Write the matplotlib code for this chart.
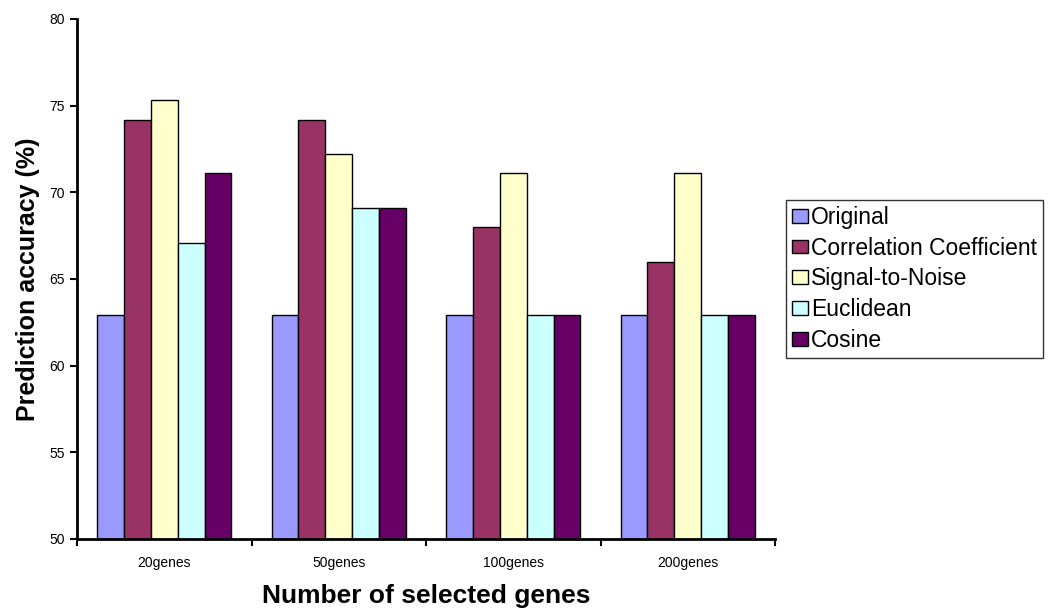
import numpy as np
import matplotlib
matplotlib.use("Agg")
import matplotlib.pyplot as plt

plt.rcParams['font.family'] = ['Liberation Sans', 'DejaVu Sans']

# ── Data ────────────────────────────────────────────────
groups = ["20genes", "50genes", "100genes", "200genes"]
methods = ["Original", "Correlation Coefficient", "Signal-to-Noise",
           "Euclidean", "Cosine"]

original    = [62.9, 62.9, 62.9, 62.9]
correlation = [74.2, 74.2, 68.0, 66.0]
signal_noise = [75.3, 72.2, 71.1, 71.1]
euclidean   = [67.1, 69.1, 62.9, 62.9]
cosine      = [71.1, 69.1, 62.9, 62.9]

series = [original, correlation, signal_noise, euclidean, cosine]
colors = ["#9999FF", "#993366", "#FFFFCC", "#CCFFFF", "#660066"]

# ── Figure ──────────────────────────────────────────────
fig = plt.figure(figsize=(10.52, 6.08), dpi=100)
ax = fig.add_axes([0.0732, 0.1135, 0.6635, 0.8553])

bar_w = 0.154
x = np.arange(len(groups)) + 0.5
for i, (vals, col, name) in enumerate(zip(series, colors, methods)):
    offs = (i - 2) * bar_w
    ax.bar(x + offs, np.array(vals) - 50, bar_w, bottom=50, color=col,
           edgecolor="black", linewidth=1.0, label=name)

ax.set_xlim(0, len(groups))
ax.set_ylim(50, 80)
ax.set_yticks(range(50, 81, 5))

# group boundary ticks, labels in the middle of each group
ax.set_xticks(np.arange(len(groups) + 1))
ax.set_xticklabels([])
ax.set_xticks(x, minor=True)
ax.set_xticklabels(groups, minor=True)
ax.tick_params(axis="x", which="minor", length=0, pad=12, labelsize=10)
ax.tick_params(axis="x", which="major", length=5, width=1.5, direction="out")
ax.tick_params(axis="y", length=5, width=1.5, direction="out", labelsize=10)

for side in ["top", "right"]:
    ax.spines[side].set_visible(False)
for side in ["left", "bottom"]:
    ax.spines[side].set_linewidth(2)

ax.set_xlabel("Number of selected genes", fontsize=19, fontweight="bold",
              labelpad=10)
ax.set_ylabel("Prediction accuracy (%)", fontsize=18, fontweight="bold",
              labelpad=7)

leg = ax.legend(loc="upper left", bbox_to_anchor=(786 / 1052, 1 - 200 / 608),
                bbox_transform=fig.transFigure, fontsize=16.5, frameon=True,
                fancybox=False, shadow=False, borderpad=0.25,
                handlelength=0.7, handleheight=0.55, handletextpad=0.15,
                labelspacing=0.34, borderaxespad=0)
leg.get_frame().set_edgecolor("black")
leg.get_frame().set_linewidth(1.0)

fig.savefig("out.png", dpi=100)
